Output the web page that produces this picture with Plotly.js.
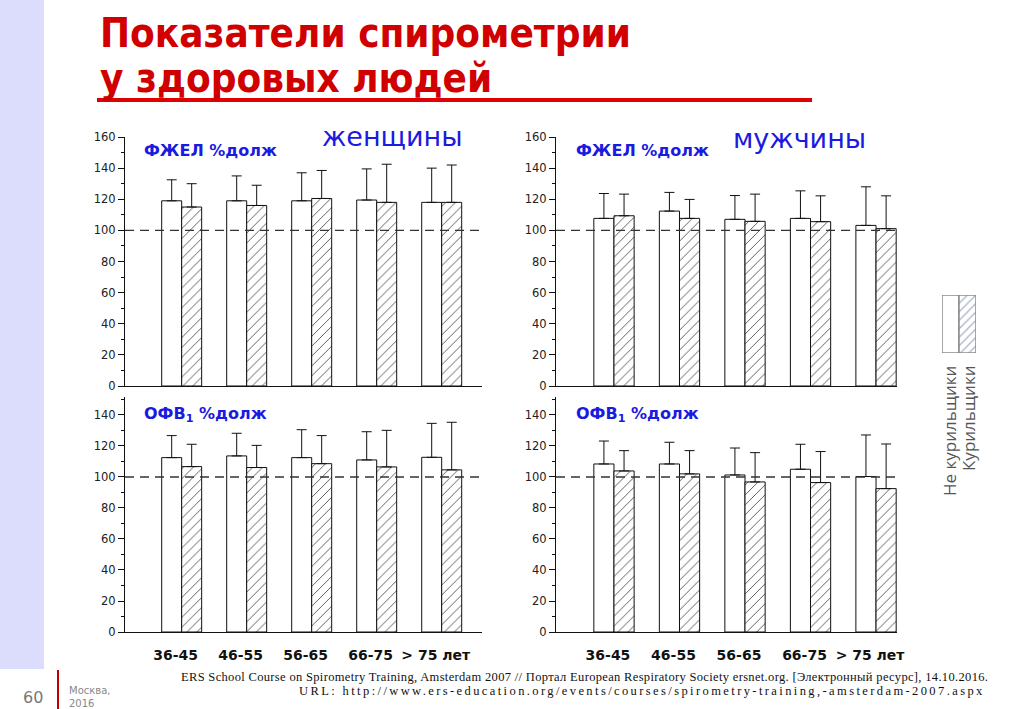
<!DOCTYPE html>
<html>
<head>
<meta charset="utf-8">
<script src="https://cdn.plot.ly/plotly-3.0.1.min.js"></script>
<style>
html,body{margin:0;padding:0;background:#fff;}
#chart{width:1024px;height:709px;}
</style>
</head>
<body>
<div id="chart"></div>
<script>
// ---- data ----
const ageGroups = ['36-45', '46-55', '56-65', '66-75', '> 75 лет'];

// ФЖЕЛ %долж, women
const fvcWomenNon   = [119, 119, 119, 119.5, 118];
const fvcWomenNonSD = [13.5, 16, 18, 20, 22];
const fvcWomenSmk   = [115, 116, 120.5, 118, 118];
const fvcWomenSmkSD = [15, 13, 18, 24.5, 24];

// ФЖЕЛ %долж, men
const fvcMenNon   = [107.7, 112.4, 107.1, 107.7, 103.2];
const fvcMenNonSD = [16, 12, 15.3, 17.7, 24.8];
const fvcMenSmk   = [109.4, 107.7, 105.8, 105.6, 101.1];
const fvcMenSmkSD = [13.9, 12.2, 17.5, 16.6, 21.1];

// ОФВ1 %долж, women
const fev1WomenNon   = [112.5, 113.6, 112.5, 111, 112.7];
const fev1WomenNonSD = [14.2, 14.6, 18, 18.2, 21.9];
const fev1WomenSmk   = [106.7, 106.1, 108.6, 106.5, 104.6];
const fev1WomenSmkSD = [14.4, 14.3, 18.1, 23.6, 30.7];

// ОФВ1 %долж, men
const fev1MenNon   = [108.4, 108.4, 101.3, 105, 100.3];
const fev1MenNonSD = [14.8, 14, 17.4, 16.1, 26.8];
const fev1MenSmk   = [103.9, 102, 96.8, 96.4, 92.5];
const fev1MenSmkSD = [13.1, 15, 18.9, 20, 28.8];

const referenceLevel = 100;
const legendKeys = ['Не курильщики', 'Курильщики'];
const legendBox = [1, 1];

// ---- helpers ----
const W = 1024, H = 709;
const px = v => v / W;
const py = v => 1 - v / H;
const zeros = a => a.map(() => 0);

const BLUE = '#1a1ae0';
const RED = '#d00000';

function barPair(xa, ya, non, nonSD, smk, smkSD) {
  const common = {
    type: 'bar', x: ageGroups, xaxis: xa, yaxis: ya, hoverinfo: 'skip', showlegend: false,
  };
  return [
    Object.assign({}, common, {
      y: non,
      marker: { color: '#ffffff', line: { color: '#111', width: 1 } },
      error_y: { type: 'data', symmetric: false, array: nonSD, arrayminus: zeros(nonSD),
                 color: '#111', thickness: 1, width: 5 }
    }),
    Object.assign({}, common, {
      y: smk,
      marker: { color: '#ffffff', line: { color: '#111', width: 1 },
                pattern: { shape: '/', fgcolor: '#444', bgcolor: '#ffffff', size: 7, solidity: 0.12 } },
      error_y: { type: 'data', symmetric: false, array: smkSD, arrayminus: zeros(smkSD),
                 color: '#111', thickness: 1, width: 5 }
    })
  ];
}

const traces = [].concat(
  barPair('x', 'y', fvcWomenNon, fvcWomenNonSD, fvcWomenSmk, fvcWomenSmkSD),
  barPair('x2', 'y2', fvcMenNon, fvcMenNonSD, fvcMenSmk, fvcMenSmkSD),
  barPair('x3', 'y3', fev1WomenNon, fev1WomenNonSD, fev1WomenSmk, fev1WomenSmkSD),
  barPair('x4', 'y4', fev1MenNon, fev1MenNonSD, fev1MenSmk, fev1MenSmkSD)
);

// legend key boxes
traces.push({
  type: 'bar', x: legendKeys, y: legendBox, xaxis: 'x5', yaxis: 'y5', width: 1,
  hoverinfo: 'skip', showlegend: false,
  marker: { color: '#ffffff', line: { color: '#8a8a8a', width: 1.5 },
            pattern: { shape: ['', '/'], fgcolor: '#a8b0c8', bgcolor: '#ffffff', size: 6, solidity: 0.2 } }
});

function xAxis(l, r, range, labels, anchor) {
  return {
    domain: [px(l), px(r)], range: range, anchor: anchor, type: 'category',
    showline: true, linecolor: '#111', linewidth: 1, showgrid: false, zeroline: false,
    ticks: '', showticklabels: labels,
    tickfont: { family: 'DejaVu Sans', size: 14, color: '#111', weight: 'bold' },
    ticklabelstandoff: 10, ticklabelshift: -6, fixedrange: true
  };
}
function yAxis(t, b, range, anchor) {
  return {
    domain: [py(b), py(t)], range: range, anchor: anchor,
    showline: true, linecolor: '#111', linewidth: 1, showgrid: false, zeroline: false,
    tickmode: 'linear', tick0: 0, dtick: 20, ticks: 'outside', ticklen: 6, tickcolor: '#111',
    minor: { dtick: 10, ticks: 'outside', ticklen: 3, tickcolor: '#111' },
    tickfont: { family: 'DejaVu Sans', size: 11.5, color: '#222' }, fixedrange: true
  };
}

const annotations = [];
function txt(text, x, y, opts) {
  annotations.push(Object.assign({
    text: text, x: px(x), y: py(y), xref: 'paper', yref: 'paper', showarrow: false,
    xanchor: 'left', yanchor: 'middle'
  }, opts));
}

// title
const titleFont = { family: 'DejaVu Sans Condensed, DejaVu Sans', size: 40, color: RED, weight: 'bold' };
txt('Показатели спирометрии', 98, 33, { font: titleFont });
txt('у здоровых людей', 98, 78, { font: titleFont });

// panel labels
const lblFont = { family: 'DejaVu Sans', size: 16, color: BLUE, weight: 'bold' };
txt('ФЖЕЛ %долж', 142, 150, { font: lblFont });
txt('ФЖЕЛ %долж', 574, 150, { font: lblFont });
txt('ОФВ<sub>1</sub> %долж', 142, 414, { font: lblFont });
txt('ОФВ<sub>1</sub> %долж', 574, 414, { font: lblFont });
const sexFont = { family: 'DejaVu Sans', size: 27, color: BLUE };
txt('женщины', 392, 136, { font: sexFont, xanchor: 'center' });
txt('мужчины', 799, 138, { font: sexFont, xanchor: 'center' });

// legend texts (rotated)
const legFont = { family: 'Open Sans, DejaVu Sans', size: 17, color: '#555' };
txt(legendKeys[0], 949, 431, { font: legFont, xanchor: 'center', textangle: -90 });
txt(legendKeys[1], 968, 418, { font: legFont, xanchor: 'center', textangle: -90 });

// footer
txt('60', 33, 697, { font: { family: 'DejaVu Sans', size: 16, color: '#777' }, xanchor: 'center' });
txt('Москва,', 67, 690, { font: { family: 'DejaVu Sans', size: 10, color: '#888' } });
txt('2016', 67, 703, { font: { family: 'DejaVu Sans', size: 10, color: '#888' } });
const citeFont = { family: 'Liberation Serif', size: 12.5, color: '#111' };
txt('<span style="letter-spacing:0.33px">ERS School Course on Spirometry Training, Amsterdam 2007 // Портал European Respiratory Society ersnet.org. [Электронный ресурс], 14.10.2016.</span>',
    990, 677, { font: citeFont, xanchor: 'right' });
txt('<span style="letter-spacing:2.4px">URL: http://www.ers-education.org/events/courses/spirometry-training,-amsterdam-2007.aspx</span>',
    987, 691, { font: citeFont, xanchor: 'right' });

const refLine = (xr, yr) => ({
  type: 'line', xref: xr + ' domain', yref: yr, x0: 0, x1: 1, y0: referenceLevel, y1: referenceLevel,
  line: { color: '#333', width: 1.3, dash: '9px,6px' }
});

const shapes = [
  { type: 'rect', xref: 'paper', yref: 'paper', x0: 0, x1: px(44), y0: py(669), y1: 1,
    fillcolor: '#dcdcfc', line: { width: 0 }, layer: 'below' },
  { type: 'line', xref: 'paper', yref: 'paper', x0: px(97), x1: px(812), y0: py(100), y1: py(100),
    line: { color: '#e00000', width: 4 } },
  { type: 'line', xref: 'paper', yref: 'paper', x0: px(58), x1: px(58), y0: py(670), y1: 0,
    line: { color: '#c00000', width: 2 } },
  refLine('x', 'y'), refLine('x2', 'y2'), refLine('x3', 'y3'), refLine('x4', 'y4')
];

const leftRange = [-0.872, 4.62];
const rightRange = [-0.885, 4.32];

const layout = {
  width: W, height: H, margin: { l: 0, r: 0, t: 0, b: 0 },
  paper_bgcolor: '#ffffff', plot_bgcolor: 'rgba(0,0,0,0)',
  barmode: 'group', bargap: 0.385, bargroupgap: 0,
  showlegend: false,
  xaxis:  xAxis(125, 482, leftRange, false, 'y'),
  yaxis:  yAxis(137, 386, [0, 160], 'x'),
  xaxis2: xAxis(556, 897, rightRange, false, 'y2'),
  yaxis2: yAxis(137, 386, [0, 160], 'x2'),
  xaxis3: xAxis(125, 482, leftRange, true, 'y3'),
  yaxis3: yAxis(397, 632, [0, 151.6], 'x3'),
  xaxis4: xAxis(556, 897, rightRange, true, 'y4'),
  yaxis4: yAxis(397, 632, [0, 151.6], 'x4'),
  xaxis5: { domain: [px(942), px(976)], range: [-0.5, 1.5], anchor: 'y5', visible: false, type: 'category', fixedrange: true },
  yaxis5: { domain: [py(353), py(295)], range: [0, 1], anchor: 'x5', visible: false, fixedrange: true },
  annotations: annotations,
  shapes: shapes
};

Plotly.newPlot('chart', traces, layout, { staticPlot: true, displayModeBar: false });
</script>
</body>
</html>
